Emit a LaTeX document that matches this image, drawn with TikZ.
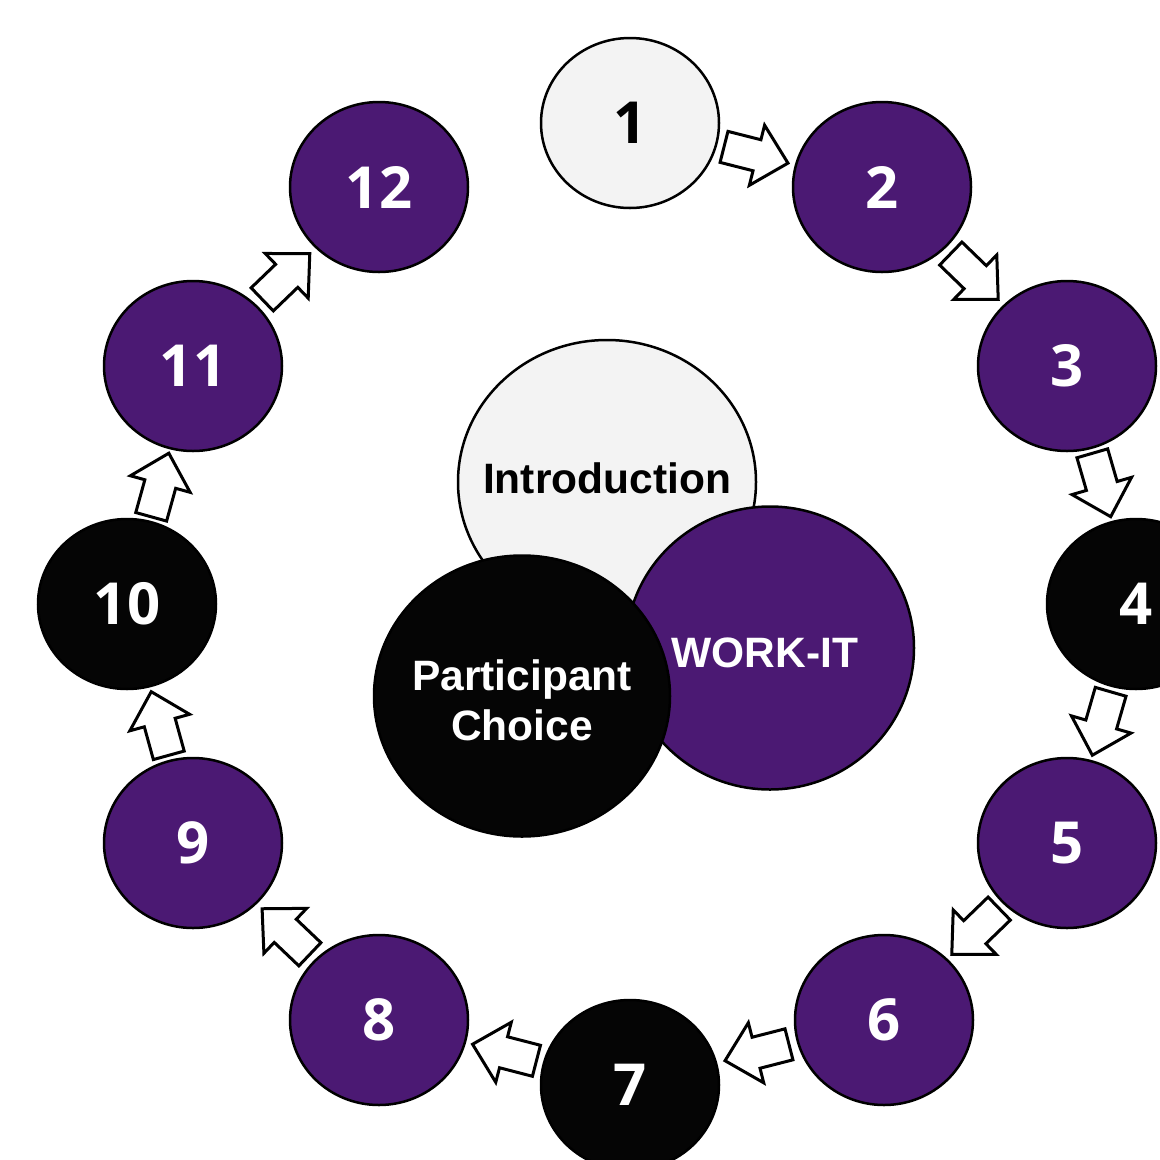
\documentclass[tikz,border=0pt]{standalone}
\usepackage{fontspec}
\setmainfont{Liberation Sans}
\newfontfamily\numfont{Open Sans}
\usetikzlibrary{shapes.geometric,calc}
\definecolor{purp}{HTML}{4B1973}
\definecolor{lightg}{HTML}{F3F3F3}
\definecolor{blk}{HTML}{050505}
\tikzset{
  stepcirc/.style={ellipse, draw=black, line width=2.5pt, minimum width=178pt, minimum height=170pt,
    inner sep=0pt, font=\numfont\bfseries\fontsize{58}{60}\selectfont, text=white, fill=purp},
  darkcirc/.style={stepcirc, fill=blk},
  lightcirc/.style={stepcirc, fill=lightg, text=black},
  bigcirc/.style={ellipse, draw=black, line width=2.5pt, inner sep=0pt},
  bigtext/.style={inner sep=0pt, font=\bfseries\fontsize{42.5}{50}\selectfont, align=center},
  barrowline/.style={draw=black, line width=3pt, fill=white, line join=miter},
  barrow/.pic={\path[barrowline] (-33,-16) -- (1,-16) -- (1,-31) -- (33,0) -- (1,31) -- (1,16) -- (-33,16) -- cycle;}
}
\begin{document}
\begin{tikzpicture}[x=1pt,y=-1pt]
\useasboundingbox (0,0) rectangle (1160,1160);
\clip (0,0) rectangle (1160,1160);
\fill[white] (0,0) rectangle (1160,1160);

% central circles
\node[bigcirc, fill=lightg, minimum width=298pt, minimum height=284pt] (intro) at (607,482) {};
\node[bigtext, text=black] (introtxt) at (607,478) {Introduction};
\node[bigcirc, fill=purp, minimum width=288pt, minimum height=283pt] (work) at (770,648) {};
\node[bigtext, text=white] (worktxt) at (765,653) {WORK-IT};
\node[bigcirc, fill=blk, minimum width=296pt, minimum height=281pt] (pc) at (522,696) {};
\node[bigtext, text=white] (pctxt) at (522,700) {Participant\\Choice};

% ring
\node[lightcirc] (n1) at (630,123) {1};
\node[stepcirc] (n2) at (882,187) {2};
\node[stepcirc] (n3) at (1067,366) {3};
\node[darkcirc] (n4) at (1136,604) {4};
\node[stepcirc] (n5) at (1067,843) {5};
\node[stepcirc] (n6) at (884,1020) {6};
\node[darkcirc] (n7) at (630,1085) {7};
\node[stepcirc] (n8) at (379,1020) {8};
\node[stepcirc] (n9) at (193,843) {9};
\node[darkcirc] (n10) at (127,604) {10};
\node[stepcirc] (n11) at (193,366) {11};
\node[stepcirc] (n12) at (379,187) {12};

% block arrows
\foreach \a/\b in {n1/n2,n2/n3,n3/n4,n4/n5,n5/n6,n6/n7,n7/n8,n8/n9,n9/n10,n10/n11,n11/n12}{
  \path let \p1=($(\b)-(\a)$), \n1={atan2(\y1,\x1)} in
    pic[rotate=\n1] at ($(\a)!0.5!(\b)$) {barrow};
}
\end{tikzpicture}
\end{document}
